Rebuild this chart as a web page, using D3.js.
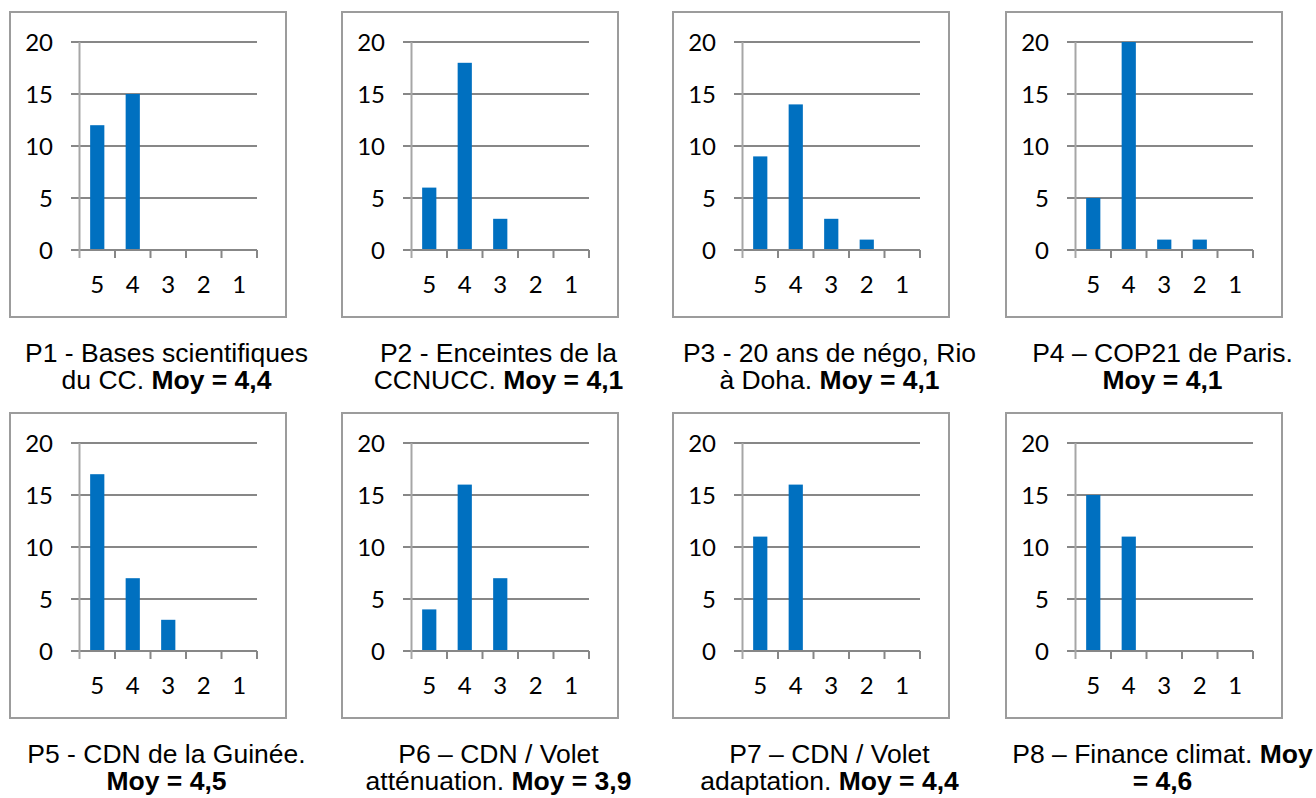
<!DOCTYPE html>
<html>
<head>
<meta charset="utf-8">
<script src="https://cdn.jsdelivr.net/npm/d3@7"></script>
<style>
  html, body { margin: 0; padding: 0; background: #fff; }
  svg { display: block; }
</style>
</head>
<body>
<svg id="chart" width="1316" height="798"></svg>
<script>
// ---- data ----
const categories = ["5", "4", "3", "2", "1"];
const yTickValues = [0, 5, 10, 15, 20];
const p1 = [12, 15, 0, 0, 0];
const p2 = [6, 18, 3, 0, 0];
const p3 = [9, 14, 3, 1, 0];
const p4 = [5, 20, 1, 1, 0];
const p5 = [17, 7, 3, 0, 0];
const p6 = [4, 16, 7, 0, 0];
const p7 = [11, 16, 0, 0, 0];
const p8 = [15, 11, 0, 0, 0];
// caption lines: each segment [text, bold?]
const captions = [
  [[["P1 - Bases scientifiques", false]], [["du CC. ", false], ["Moy = 4,4", true]]],
  [[["P2 - Enceintes de la", false]], [["CCNUCC. ", false], ["Moy = 4,1", true]]],
  [[["P3 - 20 ans de négo, Rio", false]], [["à Doha. ", false], ["Moy = 4,1", true]]],
  [[["P4 – COP21 de Paris.", false]], [["Moy = 4,1", true]]],
  [[["P5 - CDN de la Guinée.", false]], [["Moy = 4,5", true]]],
  [[["P6 – CDN / Volet", false]], [["atténuation. ", false], ["Moy = 3,9", true]]],
  [[["P7 – CDN / Volet", false]], [["adaptation. ", false], ["Moy = 4,4", true]]],
  [[["P8 – Finance climat. ", false], ["Moy", true]], [["= 4,6", true]]]
];
const panels = [p1, p2, p3, p4, p5, p6, p7, p8];

// ---- layout ----
const colX = [10, 342, 673, 1006];
const rowY = [12, 413];
const boxW = 276, boxH = 305;
const plotL = 69.5, plotR = 247, plotT = 30, plotB = 238;
const axisFont = "Lato, 'Open Sans', sans-serif";
const capFont = "'Liberation Sans', Arial, sans-serif";

const svg = d3.select("#chart");

panels.forEach((vals, i) => {
  const bx = colX[i % 4], by = rowY[Math.floor(i / 4)];
  const g = svg.append("g").attr("transform", `translate(${bx},${by})`);

  g.append("rect")
    .attr("x", 0).attr("y", 0).attr("width", boxW).attr("height", boxH)
    .attr("fill", "#fff").attr("stroke", "#9c9c9c").attr("stroke-width", 2);

  const x = d3.scaleBand().domain(categories).range([plotL, plotR])
    .paddingInner(0.6).paddingOuter(0.3);
  const xStep = d3.scaleBand().domain(categories).range([plotL, plotR]).padding(0);
  const y = d3.scaleLinear().domain([0, 20]).range([plotB, plotT]);

  // gridlines
  g.append("g").selectAll("line").data(yTickValues).join("line")
    .attr("x1", plotL - 8.5).attr("x2", plotR)
    .attr("y1", d => y(d)).attr("y2", d => y(d))
    .attr("stroke", "#878787").attr("stroke-width", 2);

  // y axis line
  g.append("line")
    .attr("x1", plotL).attr("x2", plotL)
    .attr("y1", plotT).attr("y2", plotB + 8)
    .attr("stroke", "#a6a6a6").attr("stroke-width", 2);

  // x tick marks at band boundaries
  const bounds = categories.map(c => xStep(c)).concat([plotR]);
  g.append("g").selectAll("line").data(bounds.slice(1)).join("line")
    .attr("x1", d => d).attr("x2", d => d)
    .attr("y1", plotB).attr("y2", plotB + 8)
    .attr("stroke", "#878787").attr("stroke-width", 2);

  // bars
  g.append("g").selectAll("rect").data(categories.map((c, k) => ({c, v: vals[k]})).filter(d => d.v > 0))
    .join("rect")
    .attr("x", d => x(d.c)).attr("width", x.bandwidth())
    .attr("y", d => y(d.v)).attr("height", d => y(0) - y(d.v) - 1)
    .attr("fill", "#0070c0");

  // y labels
  g.append("g").selectAll("text").data(yTickValues).join("text")
    .attr("x", 43).attr("y", d => y(d) + 8.5)
    .attr("text-anchor", "end")
    .attr("font-family", axisFont).attr("font-size", 24).attr("fill", "#000")
    .text(d => d);

  // x labels
  g.append("g").selectAll("text").data(categories).join("text")
    .attr("x", d => xStep(d) + xStep.bandwidth() / 2).attr("y", 281)
    .attr("text-anchor", "middle")
    .attr("font-family", axisFont).attr("font-size", 24).attr("fill", "#000")
    .text(d => d);

  // caption
  captions[i].forEach((line, li) => {
    const t = g.append("text")
      .attr("x", 156.5).attr("y", 350 + li * 27)
      .attr("text-anchor", "middle")
      .attr("font-family", capFont).attr("font-size", 26.5).attr("fill", "#000");
    line.forEach(seg => {
      t.append("tspan").attr("font-weight", seg[1] ? "bold" : "normal").text(seg[0]);
    });
  });
});
</script>
</body>
</html>
